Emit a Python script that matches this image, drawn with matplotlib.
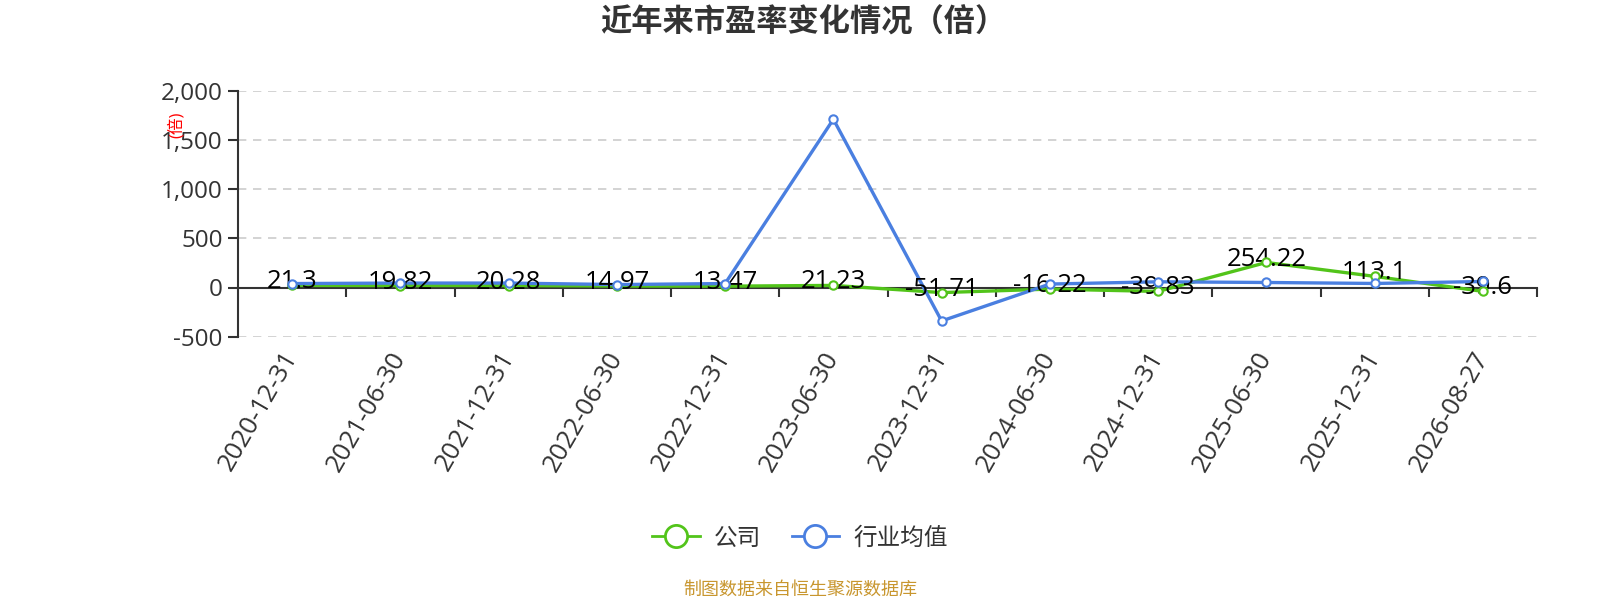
import matplotlib
matplotlib.use("Agg")
import matplotlib.pyplot as plt
from matplotlib.lines import Line2D

plt.rcParams['font.family'] = ['Open Sans', 'Noto Sans CJK SC', 'DejaVu Sans']

categories = ["2020-12-31", "2021-06-30", "2021-12-31", "2022-06-30", "2022-12-31",
              "2023-06-30", "2023-12-31", "2024-06-30", "2024-12-31", "2025-06-30",
              "2025-12-31", "2026-08-27"]
company = [21.3, 19.82, 20.28, 14.97, 13.47, 21.23, -51.71, -16.22, -39.83, 254.22, 113.1, -39.6]
industry = [40, 45, 45, 30, 40, 1710, -340, 35, 58, 51, 41, 61]
yticks = [-500, 0, 500, 1000, 1500, 2000]
ytick_labels = ["-500", "0", "500", "1,000", "1,500", "2,000"]

GREEN = '#52C41A'
BLUE = '#4A7FE0'
TXT = '#333333'

fig = plt.figure(figsize=(16, 6), dpi=100)
ax = fig.add_axes([238/1600, 1-336.7/600, (1537-238)/1600, (336.7-90.7)/600])

x = list(range(len(categories)))
ax.set_xlim(-0.5, len(categories) - 0.5)
ax.set_ylim(-500, 2000)

# grid
for v in yticks:
    if v != 0:
        ax.axhline(v, color='#CCCCCC', lw=1.2, ls=(0, (5, 4)), zorder=0.5)

# lines
ax.plot(x, company, color=GREEN, lw=2.4, zorder=2, solid_joinstyle='round')
ax.plot(x, industry, color=BLUE, lw=2.4, zorder=2.2, solid_joinstyle='round')

# labels
for xi, v in zip(x, company):
    ax.annotate(f"{v:g}", (xi, v), xytext=(0, 2.5), textcoords='offset points',
                ha='center', va='center', fontsize=18.5, color='black', zorder=3)

# markers
ax.plot(x, company, ls='none', marker='o', ms=6, mfc='white', mec=GREEN, mew=1.5, zorder=4)
ax.plot(x, industry, ls='none', marker='o', ms=6, mfc='white', mec=BLUE, mew=1.5, zorder=4.2)

# spines
for s in ['top', 'right', 'bottom']:
    ax.spines[s].set_visible(False)
ax.spines['left'].set_color(TXT)
ax.spines['left'].set_linewidth(1.5)

ax.set_yticks(yticks)
ax.set_yticklabels(ytick_labels)
ax.tick_params(axis='y', direction='out', length=7, width=1.5, color=TXT,
               labelsize=17.5, labelcolor=TXT, pad=4)

ax.set_xticks(x)
ax.set_xticklabels(categories, rotation=60, ha='right', va='center', rotation_mode='anchor')
ax.tick_params(axis='x', length=0, labelsize=18.5, labelcolor=TXT, pad=12)

# zero axis with category boundary ticks
sec = ax.secondary_xaxis(0, transform=ax.transData)
sec.spines['bottom'].set_color(TXT)
sec.spines['bottom'].set_linewidth(1.5)
sec.set_xticks([i + 0.5 for i in x])
sec.set_xticklabels([])
sec.tick_params(axis='x', direction='out', length=6.5, width=1.5, color=TXT)

# y axis unit label
ax.text(-0.047, 0.86, "(倍)", transform=ax.transAxes, rotation=90, color='red',
        fontsize=12, ha='center', va='center')

# title
fig.text(0.502, 1 - 23/600, "近年来市盈率变化情况（倍）", ha='center', va='center',
         fontsize=22.5, fontweight='bold', color=TXT,
         family=['Noto Sans CJK SC', 'DejaVu Sans'])

# legend
handles = [Line2D([0], [0], color=GREEN, lw=2, marker='o', ms=16, mfc='white', mec=GREEN, mew=2),
           Line2D([0], [0], color=BLUE, lw=2, marker='o', ms=16, mfc='white', mec=BLUE, mew=2)]
fig.legend(handles, ["公司", "行业均值"], loc='center', bbox_to_anchor=(0.5, 1 - 538/600),
           ncol=2, frameon=False, labelcolor=TXT, handlelength=2.0,
           handletextpad=0.6, columnspacing=1.3,
           prop={'family': ['Noto Sans CJK SC', 'DejaVu Sans'], 'size': 17})

# footer
fig.text(0.5, 1 - 590/600, "制图数据来自恒生聚源数据库", ha='center', va='center',
         fontsize=13, color='#C8962E', family=['Noto Sans CJK SC', 'DejaVu Sans'])

fig.savefig("out.png", dpi=100)
